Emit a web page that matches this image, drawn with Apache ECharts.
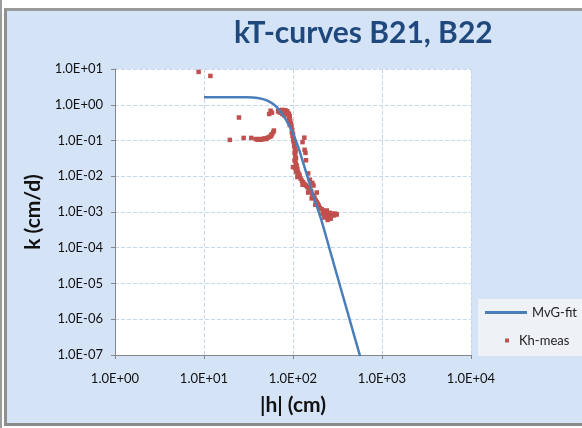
<!DOCTYPE html>
<html>
<head>
<meta charset="utf-8">
<script src="https://cdn.jsdelivr.net/npm/echarts@6/dist/echarts.min.js"></script>
<style>
  html, body { margin: 0; padding: 0; background: #fff; }
  .edge { position: absolute; left: 0; top: 0; width: 2px; height: 428px; background: #9c9c9c; }
  .frame {
    position: absolute; left: 4px; top: 8px; width: 580px; height: 418px;
    background: #d5e3f7; border-left: 3px solid #8f8f8f; border-top: 3px solid #9a9a9a;
    border-bottom: 3px solid #8a8a8a; box-sizing: border-box;
  }
  #chart { position: absolute; left: 0; top: 0; width: 582px; height: 428px; }
</style>
</head>
<body>
<div class="edge"></div>
<div class="frame"></div>
<div id="chart"></div>
<script>
// tick labels, indexed by decade exponent
var xTickLabels = ['1.0E+00', '1.0E+01', '1.0E+02', '1.0E+03', '1.0E+04'];
var yTickLabels = ['1.0E-07', '1.0E-06', '1.0E-05', '1.0E-04', '1.0E-03', '1.0E-02', '1.0E-01', '1.0E+00', '1.0E+01'];

// MvG-fit curve, |h| (cm) vs k (cm/d)
var fitH = [10, 20, 30, 40, 50, 60, 70, 80, 90, 100, 115, 130, 150, 175, 208, 260, 340, 440, 568];
var fitK = [1.63, 1.63, 1.62, 1.55, 1.35, 1.05, 0.72, 0.45, 0.27, 0.16, 0.063, 0.024, 0.0075, 0.0022, 0.0006, 0.000085, 0.0000081, 0.00000085, 0.000000091];

// Kh-meas points
var measH = [8.7, 11.8, 24.7, 19.5, 27.9, 34,
  38, 40, 42, 44, 46, 48, 50, 52, 54, 56, 58, 60, 61, 57,
  54, 56, 58,
  70, 72, 74, 76, 78, 80, 82, 84, 86, 88, 90, 76, 80, 92, 68, 73, 78, 83,
  90, 93, 95, 92, 96, 98, 97, 100, 99, 102, 101, 104, 103, 105, 107, 104, 106, 108, 104, 107, 110, 106, 112, 109,
  115, 118, 112, 122, 126, 130, 135, 140, 128, 145, 150, 155, 160, 148, 165, 170, 175, 162, 180, 185, 190, 178,
  195, 200, 210, 220, 230, 240, 250, 260, 270, 280, 255, 235, 290, 300, 310, 265, 245, 225, 215,
  134, 128, 135, 138, 140, 148, 155, 165, 170, 185, 100, 108, 113, 118];
var measK = [8.3, 6.4, 0.44, 0.104, 0.118, 0.118,
  0.11, 0.105, 0.11, 0.105, 0.11, 0.115, 0.11, 0.12, 0.125, 0.13, 0.15, 0.17, 0.19, 0.14,
  0.55, 0.68, 0.6,
  0.62, 0.7, 0.65, 0.72, 0.6, 0.68, 0.7, 0.62, 0.66, 0.58, 0.55, 0.55, 0.5, 0.48, 0.66, 0.6, 0.7, 0.56,
  0.42, 0.36, 0.3, 0.27, 0.24, 0.2, 0.17, 0.15, 0.13, 0.11, 0.095, 0.085, 0.07, 0.06, 0.05, 0.045, 0.038, 0.032, 0.028, 0.024, 0.02, 0.017, 0.016, 0.013,
  0.012, 0.01, 0.0095, 0.0085, 0.0075, 0.0068, 0.006, 0.0055, 0.0058, 0.005, 0.0045, 0.0042, 0.0038, 0.0035, 0.003, 0.0028, 0.0025, 0.0024, 0.0021, 0.0019, 0.0017, 0.0016,
  0.0015, 0.0013, 0.0012, 0.0011, 0.001, 0.0011, 0.0009, 0.00095, 0.00085, 0.0009, 0.00075, 0.0008, 0.0008, 0.0009, 0.00085, 0.00065, 0.0006, 0.0007, 0.0009,
  0.12, 0.09, 0.055, 0.045, 0.028, 0.012, 0.008, 0.0065, 0.0055, 0.0035, 0.018, 0.015, 0.013, 0.011];

function zip(a, b) {
  return a.map(function (v, i) { return [v, b[i]]; });
}
function decade(v) {
  return Math.round(Math.log(v) / Math.LN10);
}

var font = 'Lato, "Open Sans", sans-serif';
var chart = echarts.init(document.getElementById('chart'));
chart.setOption({
  backgroundColor: 'transparent',
  animation: false,
  textStyle: { fontFamily: font },
  title: {
    text: 'kT-curves B21, B22',
    left: 229,
    top: 13,
    textStyle: { fontSize: 30, fontWeight: 'bold', color: '#1f497d', fontFamily: font }
  },
  graphic: [{
    type: 'rect',
    shape: { x: 478, y: 299, width: 110, height: 57 },
    style: { fill: '#eef1f5' },
    z: -1
  }],
  legend: [{
    data: [{ name: 'MvG-fit', icon: 'rect' }],
    left: 485,
    top: 306,
    padding: 0,
    itemWidth: 42,
    itemHeight: 3,
    textStyle: { fontSize: 13, color: '#222', fontFamily: font }
  }, {
    data: ['Kh-meas'],
    left: 505,
    top: 334,
    padding: 0,
    itemWidth: 4,
    itemHeight: 4,
    textStyle: { fontSize: 13, color: '#222', fontFamily: font, padding: [0, 0, 0, 5] }
  }],
  grid: {
    left: 115, right: 111, top: 69, bottom: 73,
    show: true, backgroundColor: '#ffffff', borderWidth: 0
  },
  xAxis: {
    type: 'log',
    logBase: 10,
    min: 1,
    max: 10000,
    name: '|h| (cm)',
    nameLocation: 'middle',
    nameGap: 40,
    nameTextStyle: { fontSize: 21, fontWeight: 'bold', color: '#111', fontFamily: font },
    axisLine: { lineStyle: { color: '#868686' } },
    axisTick: { length: 4, lineStyle: { color: '#868686' } },
    axisLabel: {
      fontSize: 13, color: '#111', margin: 17,
      formatter: function (v) { return xTickLabels[decade(v)]; }
    },
    splitLine: { lineStyle: { color: '#c6d7ec', type: 'dashed' } }
  },
  yAxis: {
    type: 'log',
    logBase: 10,
    min: 1e-7,
    max: 10,
    name: 'k (cm/d)',
    nameLocation: 'middle',
    nameRotate: 90,
    nameGap: 66,
    nameTextStyle: { fontSize: 21, fontWeight: 'bold', color: '#111', fontFamily: font },
    axisLine: { show: true, lineStyle: { color: '#868686' } },
    axisTick: { show: true, length: 4, lineStyle: { color: '#868686' } },
    axisLabel: {
      fontSize: 13, color: '#111', margin: 12,
      formatter: function (v) { return yTickLabels[decade(v) + 7]; }
    },
    splitLine: { lineStyle: { color: '#c6d7ec', type: 'dashed' } }
  },
  series: [{
    name: 'MvG-fit',
    type: 'line',
    data: zip(fitH, fitK),
    symbol: 'none',
    smooth: 0.3,
    lineStyle: { color: '#4a7ebb', width: 2.5 },
    itemStyle: { color: '#4a7ebb' },
    z: 3
  }, {
    name: 'Kh-meas',
    type: 'scatter',
    data: zip(measH, measK),
    symbol: 'rect',
    symbolSize: 4.5,
    itemStyle: { color: '#c0504d', opacity: 1 },
    z: 2
  }]
});
</script>
</body>
</html>
